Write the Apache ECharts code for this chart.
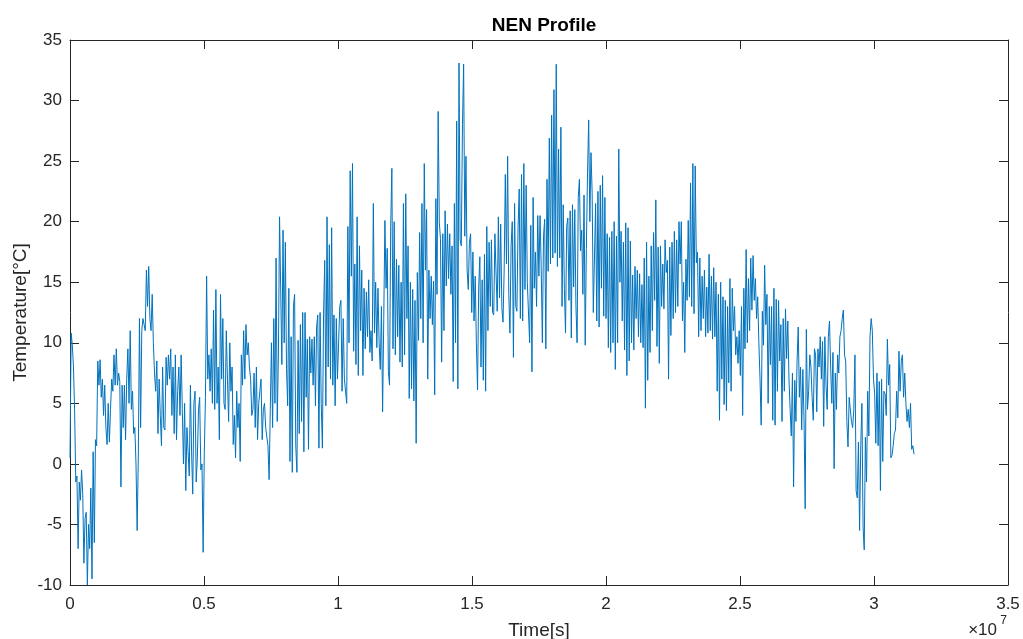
<!DOCTYPE html>
<html>
<head>
<meta charset="utf-8">
<title>NEN Profile</title>
<script src="https://cdn.jsdelivr.net/npm/echarts@6/dist/echarts.min.js"></script>
<style>
  html, body { margin: 0; padding: 0; background: #fff; }
  #main { width: 1023px; height: 639px; }
</style>
</head>
<body>
<div id="main"></div>
<script>
// sampling step of the read-off values, in seconds (12 h)
var sampleStep = 43200;

// temperature [°C], two readings per day, read from the profile
var tempQ1 = [
  0.5, 10.8, 9.8, 8, 4.3, -1.5, -1, -7, -1.5, -3, -0.5, -2.5, -8.2, -4.5, -4, -10,
  -5, -7, -2, -9.5, 1, -6.5, 2, 1.5, 8.5, 6.5, 8.6, 5.5, 7, 4, 6.5, 3,
  1.6, 5, 1.8, 4.5, 7, 6, 9, 6.5, 9.5, 6.5, 7.5, 6.8, -1.9, 6.5, 3, 6.5,
  2, 7, 9.5, 5, 11, 4.5, 6, 2.5, 3, 0, -5.5, 0.5, 12, 3, 11, 12,
  11.5, 11, 16, 13, 16.3, 12, 11, 14, 10, 7.5, 6, 8.5, 2.5, 7, 4, 1.5,
  8, 3, 2.8, 8.8, 6.5, 9, 7, 9.5, 4, 8, 2.5, 9, 2, 6, 8, 4,
  9, 4.5, 0, 5, -2.2, 3, 1, -1, 6.5, 1, -2.5, 5, 6, -1.5, 0.5, 4.5,
  5.5, -0.5, 0, -7.3, 1, 5.5, 15.5, 7, 9, 6, 9.5, 5, 12.7, 4.5, 14.4, 5,
  8, 2, 14, 7, 12, 5, 4.5, 11, 7, 3.5, 10, 6, 8, 1.6, 4, 0.5,
  6, 3, 5, 0.2, 9, 6.5, 11, 7, 11.5, 9, 10, 8, 7, 4, 4.5, 7.5,
  3, 8, 2, 5, 5, 7, 2, 4.5, 5, 3, 3, 1.5, -1.3, 4.5, 10, 3,
  12, 5, 17, 3.5, 9, 20.4
];

var tempQ2 = [
  20.5, 8.2, 19.3, 10, 18.3, 7.9, 4.8, 14.5, 0.2, 10.5, -0.7, 13, 14, 1.5, -0.7, 10.2,
  2.5, 11.5, 3.5, 12.5, 1, 12.5, 5.5, 10.3, 1.2, 10.5, 7.5, 10.3, 6.5, 10.5, 4.8, 11.3,
  12.3, 1.3, 12.5, 5, 1.3, 12.3, 16.8, 4.8, 20.4, 8, 18.1, 7, 19.5, 6.5, 12.3, 4.8,
  12, 7, 7, 13, 13.5, 6, 12, 7, 6, 5, 19.6, 10, 24.2, 15.5, 24.8, 9.3,
  16.5, 8.2, 20.4, 7.3, 18, 11, 16, 7.3, 14.5, 9.5, 14.2, 10.5, 15.2, 9.2, 11, 8.5,
  21.5, 10.8, 15, 9.6, 14.5, 10, 7.8, 13, 4.3, 12, 20.1, 14.5, 17.8, 7.6, 6.5, 19.6,
  24.4, 9.5, 20, 9, 16.9, 10.5, 16.4, 8.4, 15, 8, 21.5, 9, 22.3, 12, 18, 5.4,
  15, 6.2, 14.4, 5.2, 13.5, 1.7, 15.8, 10.2, 19.1, 12, 21.5, 10, 24.8, 16, 21, 7,
  16, 12, 15.5, 11.5, 15.1, 5.7, 21.9, 14, 29.1, 19.9, 18.6, 8.4, 19, 11, 20.9, 14.7,
  19.8, 15.3, 19, 14, 18, 6.8, 21.5, 10, 28.3, 6.2, 33.1, 18.5, 18, 28, 33, 18.8,
  25.4, 16, 14.4, 18.3, 19, 12.5, 17.5, 11.8, 15.5, 10, 6.1, 14.6, 17.1, 8, 15.2, 6.9,
  17.3, 6, 19.6, 11, 18.3, 13
];

var tempQ3 = [
  18.5, 12.5, 12.3, 19, 19, 12.6, 20.4, 13.7, 19.8, 12.9, 11.7, 16, 23.9, 16.5, 25.4, 14,
  10.8, 18, 20, 8.8, 21.5, 13, 12.6, 19.5, 22.7, 12, 23.9, 11.8, 24.8, 14.4, 23, 15,
  15, 10, 19.7, 7.6, 22, 14.5, 17.5, 13, 20.5, 15.5, 20.5, 16.2, 10, 18.8, 20.2, 9.5,
  23.5, 15.9, 26.9, 16.5, 28.8, 17, 30.9, 17.4, 33, 16.3, 26, 17, 27.8, 13, 21.4, 14.5,
  10.8, 19.6, 20.3, 13.5, 20.9, 10.4, 21.4, 14.6, 21, 13, 10, 22, 23.5, 17.6, 19.3, 14,
  22.2, 9.8, 17.8, 24, 28.4, 20, 25.7, 22.4, 12.5, 17, 21.5, 11.8, 22.5, 11.3, 23, 14.5,
  23.8, 12.2, 22, 12, 19, 9.6, 18.7, 9.2, 19.2, 10, 20, 7.8, 18.8, 10, 26, 15,
  19.2, 11.8, 18.3, 9.4, 19.9, 7.3, 19.5, 8.5, 18.4, 10, 15.6, 9.4, 16.3, 12, 16, 10.5,
  15.7, 10, 14.8, 9.6, 17, 4.6, 18.3, 6.9, 15.5, 9.2, 18, 11, 19.1, 13.5, 21.8, 9.7,
  17.9, 8.3, 18, 13, 16.5, 12.8, 18.5, 15.8, 16.8, 7, 17.9, 10.6, 18.3, 12, 19.2, 12.5,
  18.5, 13, 20, 16.5, 20, 11.8, 15, 9.2, 16.9, 13.5, 20.1, 13.8, 23.2, 13, 24.8, 12.4,
  24.6, 16.6, 17.5, 10.5, 17, 11
];

var tempQ4 = [
  15.5, 12, 16, 10.5, 14.6, 10.8, 17.3, 11, 15.5, 10.3, 16.2, 10.5, 15, 6, 14, 3.6,
  15, 7, 13.8, 4.9, 13.5, 4.4, 13, 6.7, 15.3, 6, 14.5, 11, 13, 9, 10.5, 8.3,
  11, 7.3, 13, 4, 14.5, 9.5, 17.7, 10, 15.3, 11, 17, 12.7, 17.2, 13.5, 15.3, 12,
  13.8, 10, 7, 3.2, 12.6, 9.8, 16.4, 11.5, 14, 5, 13, 8.2, 13, 3.6, 14.5, 3.2,
  13.6, 6, 13.5, 8.5, 11.5, 3.5, 12, 6, 12.8, 8.7, 11.8, 7, 4.5, 2.3, 7.5, -1.9,
  6.9, 3.5, 8.5, 11.3, 5.5, 8, 2.8, 7.8, 3.7, -3.7, 11.1, 4.5, 6, 9, 8, 5.5,
  3.6, 9.5, 9, 4.3, 9.5, 8, 10.5, 7, 10.1, 3.1, 10.5, 6.5, 4.5, 10.5, 11.8, 8,
  5, 9.2, -0.4, 7.5, 4.5, 9, 7.5, 10.5, 11, 12, 12.7, 9, 8.5, 3.5, 1.4, 5.5,
  5.5, 3.5, 3, 4.5, 9, -2.2, -2.8, 1.8, -5.5, 1.5, 5, -5.2, -7.1, 2.2, -1.5, 6,
  2.3, 10.5, 12, 11, 7, 5.8, 1.7, 7.5, 1.5, 6.8, -2.2, 7, 0.2, 6, 5.8, 4,
  10.3, 6.5, 8.2, 0.5, 0.7, 1.5, 2.5, 2.8, 6, 3.8, 9.3, 6, 8.5, 9, 5.5, 7.5,
  5, 3.5, 4.5, 3, 5, 1.2, 1.5, 0.8
];

var xTicks = [0, 0.5, 1, 1.5, 2, 2.5, 3, 3.5];
var yTicks = [-10, -5, 0, 5, 10, 15, 20, 25, 30, 35];

var temps = tempQ1.concat(tempQ2, tempQ3, tempQ4);
var profile = temps.map(function(v, i) {
  return [i * sampleStep, v];
});

var axisColor = '#262626';
var font = 'Liberation Sans, Arial, Helvetica, sans-serif';

// shared look of the box axes (MATLAB style: ticks inside, no grid)
function boxAxis(extra) {
  var base = {
    type: 'value',
    axisLine: { show: true, onZero: false, lineStyle: { color: axisColor, width: 1 } },
    axisTick: { show: true, inside: true, length: 9, lineStyle: { color: axisColor } },
    splitLine: { show: false }
  };
  for (var k in extra) base[k] = extra[k];
  return base;
}

var chart = echarts.init(document.getElementById('main'));
var options = {
  animation: false,
  backgroundColor: '#ffffff',
  textStyle: { fontFamily: font },
  title: {
    text: 'NEN Profile',
    left: 539,
    top: 11,
    textAlign: 'center',
    textStyle: { fontSize: 19, fontWeight: 'bold', color: '#000', fontFamily: font }
  },
  grid: { left: 70, right: 15, top: 40, bottom: 54, containLabel: false, outerBoundsMode: 'none' },
  xAxis: [
    boxAxis({
      min: xTicks[0] * 1e7,
      max: xTicks[xTicks.length - 1] * 1e7,
      interval: 5e6,
      name: 'Time[s]',
      nameLocation: 'middle',
      nameGap: 36,
      nameMoveOverlap: false,
      nameTextStyle: { fontSize: 19, color: axisColor, fontFamily: font },
      axisLabel: {
        fontSize: 17, color: axisColor, margin: 11,
        formatter: function(v) { return String(+(v / 1e7).toFixed(1)); }
      }
    }),
    boxAxis({
      position: 'top',
      min: 0, max: 3.5e7, interval: 5e6,
      axisLabel: { show: false }
    })
  ],
  yAxis: [
    boxAxis({
      min: yTicks[0],
      max: yTicks[yTicks.length - 1],
      interval: 5,
      name: 'Temperature[°C]',
      nameLocation: 'middle',
      nameGap: 40,
      nameMoveOverlap: false,
      nameTextStyle: { fontSize: 19, color: axisColor, fontFamily: font },
      axisLabel: { fontSize: 17, color: axisColor, margin: 8 }
    }),
    boxAxis({
      position: 'right',
      min: -10, max: 35, interval: 5,
      axisLabel: { show: false }
    })
  ],
  graphic: [
    {
      type: 'text',
      right: 26,
      top: 622,
      style: { text: '\u00d710', fill: axisColor, font: '17px ' + font }
    },
    {
      type: 'text',
      right: 16,
      top: 615,
      style: { text: '7', fill: axisColor, font: '12px ' + font }
    }
  ],
  series: [
    {
      name: 'NEN',
      type: 'line',
      xAxisIndex: 0,
      yAxisIndex: 0,
      data: profile,
      showSymbol: false,
      sampling: null,
      lineStyle: { color: '#0072BD', width: 1 },
      emphasis: { disabled: true }
    }
  ]
};
chart.setOption(options);
</script>
</body>
</html>
